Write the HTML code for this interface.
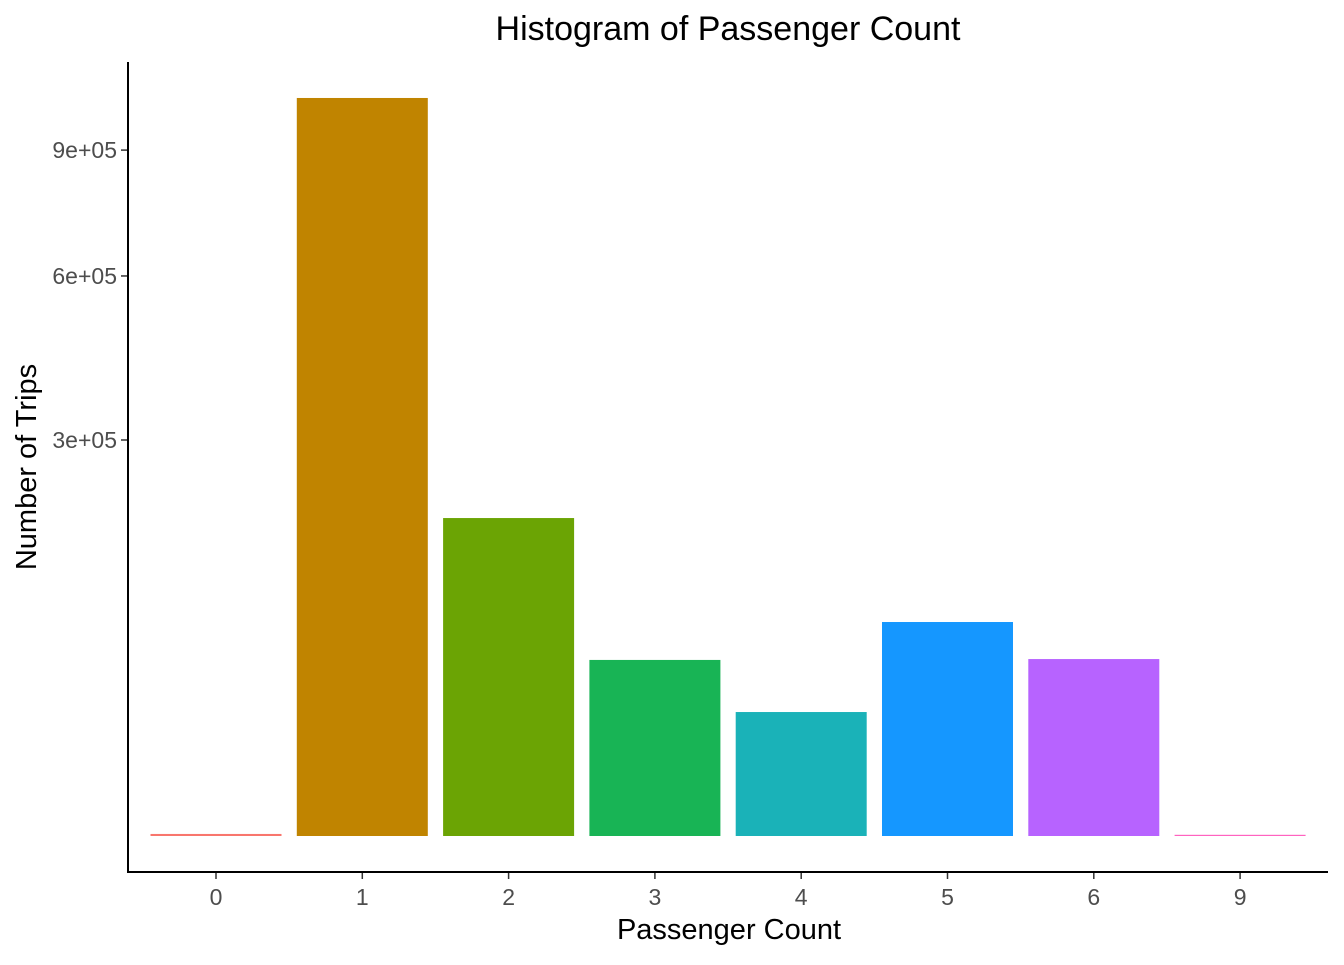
<!DOCTYPE html>
<html><head><meta charset="utf-8"><style>
body{margin:0;background:#fff;font-family:"Liberation Sans",Arial,sans-serif;}
</style></head><body>
<svg width="1344" height="960" xmlns="http://www.w3.org/2000/svg">
<text x="728" y="40" font-size="34" text-anchor="middle" fill="#000">Histogram of Passenger Count</text>
<g id="bars"></g>
<g id="yaxis"></g>
<g id="xaxis"></g>
<line x1="128" y1="62" x2="128" y2="872" stroke="#000" stroke-width="2"/>
<line x1="127" y1="872" x2="1328" y2="872" stroke="#000" stroke-width="2"/>
<text x="729" y="939" font-size="29" text-anchor="middle">Passenger Count</text>
<text transform="translate(36,467) rotate(-90)" font-size="29" text-anchor="middle">Number of Trips</text>
</svg>
<script>
const categories=["0","1","2","3","4","5","6","9"];
const counts=[8,1042000,193400,59300,29400,87600,59900,2];
const colors=["#F8766D","#C08400","#6BA404","#18B455","#1AB2B8","#1597FF","#B763FF","#FF63C0"];
const yTicks=[300000,600000,900000];
const yTickLabels=["3e+05","6e+05","9e+05"];
const NS="http://www.w3.org/2000/svg";
const y0=836,k=0.723;
function yScale(v){return y0-k*Math.sqrt(v);}
const step=146.3,xStart=216;
function xScale(i){return xStart+i*step;}
const bw=131;
const bars=document.getElementById('bars');
categories.forEach((c,i)=>{
 const r=document.createElementNS(NS,'rect');
 const top=yScale(counts[i]);
 const h=Math.max(1.2,y0-top);
 r.setAttribute('x',xScale(i)-bw/2);r.setAttribute('y',y0-h);
 r.setAttribute('width',bw);r.setAttribute('height',h);r.setAttribute('fill',colors[i]);
 
 
 bars.appendChild(r);
 const t=document.createElementNS(NS,'text');
 t.setAttribute('x',xScale(i));t.setAttribute('y',905);t.setAttribute('font-size','23');
 t.setAttribute('text-anchor','middle');t.setAttribute('fill','#4d4d4d');t.textContent=c;
 
 
 document.getElementById('xaxis').appendChild(t);
 const l=document.createElementNS(NS,'line');
 l.setAttribute('x1',xScale(i));l.setAttribute('x2',xScale(i));l.setAttribute('y1',872);l.setAttribute('y2',879);
 l.setAttribute('stroke','#333');l.setAttribute('stroke-width','1.5');
 
 
 document.getElementById('xaxis').appendChild(l);
});
yTicks.forEach((v,i)=>{
 const y=yScale(v);
 const l=document.createElementNS(NS,'line');
 l.setAttribute('x1',121);l.setAttribute('x2',128);l.setAttribute('y1',y);l.setAttribute('y2',y);
 l.setAttribute('stroke','#333');l.setAttribute('stroke-width','1.5');
 
 
 document.getElementById('yaxis').appendChild(l);
 const t=document.createElementNS(NS,'text');
 t.setAttribute('x',117);t.setAttribute('y',y+8);t.setAttribute('font-size','23');
 t.setAttribute('text-anchor','end');t.setAttribute('fill','#4d4d4d');t.textContent=yTickLabels[i];
 
 
 document.getElementById('yaxis').appendChild(t);
});
</script>
</body></html>
